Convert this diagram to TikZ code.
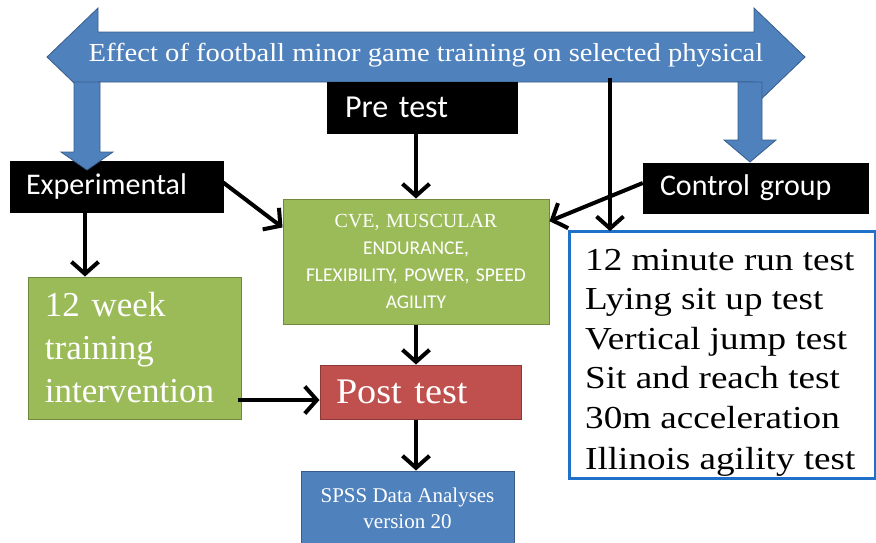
\documentclass[tikz,border=0pt]{standalone}
\usepackage{fontspec}
\setmainfont{Liberation Serif}
\newfontfamily\calib{Carlito}
\usetikzlibrary{arrows.meta,calc}
\definecolor{ablue}{HTML}{4F81BD}
\definecolor{ablueline}{HTML}{385D8A}
\definecolor{agreen}{HTML}{9BBB59}
\definecolor{agreenline}{HTML}{71893F}
\definecolor{ared}{HTML}{C0504D}
\definecolor{aredline}{HTML}{8C3836}
\definecolor{tblue}{HTML}{1F70C8}
\begin{document}
\begin{tikzpicture}[x=1pt,y=-1pt,
  blockarrow/.style={fill=ablue, draw=ablueline, line width=0.8pt, line join=miter},
  blackbox/.style={fill=black, draw=black, text=white, inner ysep=0pt, align=left,
    font=\calib\fontsize{30}{36}\selectfont},
  greenbox/.style={fill=agreen, draw=agreenline, line width=1pt, text=white, inner ysep=0pt},
  redbox/.style={fill=ared, draw=aredline, line width=1pt, text=white, inner ysep=0pt, align=left},
  bluebox/.style={fill=ablue, draw=ablueline, line width=1pt, text=white, inner ysep=0pt, align=center},
  testbox/.style={draw=tblue, line width=1.8pt, fill=white, inner sep=0pt},
  testline/.style={anchor=base west, inner sep=0pt, text=black, font=\fontsize{32}{38}\selectfont},
  conn/.style={draw=black, line width=4pt, -{Straight Barb[length=12pt,width=27pt]}}
]
\useasboundingbox (0,0) rectangle (876,542);

% main double arrow
\path[blockarrow] (47,57) -- (98,8) -- (98,32) -- (754,32) -- (754,8) -- (805,57)
  -- (754,106) -- (754,82) -- (98,82) -- (98,106) -- cycle;
\node[text=white, inner sep=0pt, font=\fontsize{26}{30}\selectfont] (title) at (426,55)
  {\scalebox{1.1}[1]{Effect of football minor game training on selected physical}};
\coordinate (tap) at (610,78);

% boxes
\node[blackbox, minimum height=51pt, text width=154pt, inner xsep=18pt, font=\calib\fontsize{32}{36}\selectfont] (pre) at (422,107.5) {Pre test};
\node[blackbox, minimum height=51pt, text width=181pt, inner xsep=16pt] (exp) at (116.5,186.5) {Experimental};
\node[blackbox, minimum height=50pt, text width=191pt, inner xsep=17pt] (ctrl) at (755.5,188) {Control group};

\node[greenbox, minimum height=125pt, text width=260pt, inner xsep=3pt, align=center,
  font=\calib\fontsize{19.5}{27}\selectfont] (cve) at (416,261.5)
  {{\rmfamily\fontsize{20}{27}\selectfont CVE, MUSCULAR}\\ENDURANCE,\\FLEXIBILITY, POWER, SPEED\\AGILITY};

\node[greenbox, minimum height=142pt, text width=179pt, inner xsep=17pt, align=left,
  font=\fontsize{35}{43}\selectfont] (week) at (134.5,348) {12 week\\training\\intervention};

\node[redbox, minimum height=54pt, text width=169pt, inner xsep=16pt,
  font=\fontsize{36}{40}\selectfont] (post) at (420.5,392) {\scalebox{1.06}[1]{Post test}};

\node[bluebox, minimum height=74pt, minimum width=213pt, inner xsep=0pt,
  font=\fontsize{21}{26}\selectfont] (spss) at (407.5,508) {SPSS Data Analyses\\version 20};

\node[testbox, minimum width=305pt, minimum height=246pt] (tests) at (722.5,355) {};
\begin{scope}
  \clip (tests.south west) rectangle (tests.north east);
  \node[testline] (t1) at (585,270) {\scalebox{1.16}[1]{12 minute run test}};
  \node[testline] (t2) at (585,309.5) {\scalebox{1.16}[1]{Lying sit up test}};
  \node[testline] (t3) at (585,349) {\scalebox{1.16}[1]{Vertical jump test}};
  \node[testline] (t4) at (585,388.5) {\scalebox{1.16}[1]{Sit and reach test}};
  \node[testline] (t5) at (585,428) {\scalebox{1.16}[1]{30m acceleration}};
  \node[testline] (t6) at (585,469) {\scalebox{1.16}[1]{Illinois agility test}};
\end{scope}
\draw[draw=tblue, line width=1.8pt] (tests.south west) rectangle (tests.north east);

% down block arrows
\path[blockarrow] (74,82) -- (100,82) -- (100,152) -- (113,152) -- (87,170) -- (61,152) -- (74,152) -- cycle;
\path[blockarrow] (738,82) -- (762,82) -- (762,140) -- (776,140) -- (750,162) -- (724,140) -- (738,140) -- cycle;

% connectors
\draw[conn] ([xshift=-31.5pt]exp.south) -- ([xshift=-49.5pt]week.north);
\draw[conn] ([yshift=4pt]exp.east) -- ($(cve.north west)!0.23!(cve.south west)$);
\draw[conn] ([xshift=-6pt]pre.south) -- (cve.north);
\draw[conn] ([yshift=5pt]ctrl.west) -- ($(cve.north east)!0.18!(cve.south east)$);
\draw[conn] (tap) -- (tap |- tests.north);
\draw[conn] (cve.south) -- (cve.south |- post.north);
\draw[conn] ($(week.east |- post.west)+(-4,8)$) -- ($(post.west)+(0,8)$);
\draw[conn] (cve.south |- post.south) -- (cve.south |- spss.north);
\end{tikzpicture}
\end{document}
